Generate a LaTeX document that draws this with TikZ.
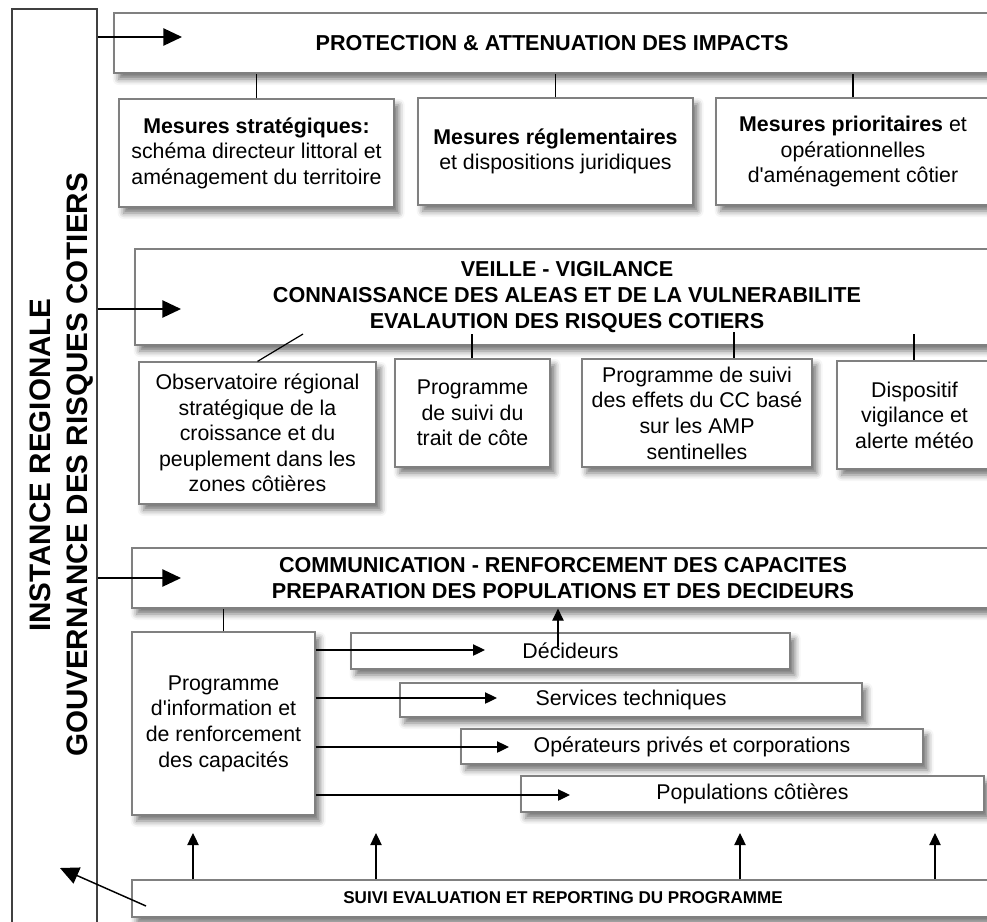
\documentclass[tikz,border=0pt]{standalone}
\usepackage{fontspec}
\setmainfont{Liberation Sans}[Ligatures=TeXOff]
\usetikzlibrary{arrows.meta,fit,shadows.blur}

\tikzset{
 box/.style={draw=black!50, line width=0.9pt, fill=white, inner sep=0pt, align=center,
   font=\fontsize{16}{19.2}\selectfont,
   blur shadow={shadow xshift=3.5pt, shadow yshift=-4.5pt, shadow blur radius=4.5pt, shadow opacity=55}},
 sz/.style 2 args={minimum width=0.75pt*#1, minimum height=0.75pt*#2},
 head/.style={font=\fontsize{16.2}{19.2}\selectfont\bfseries, align=center, inner sep=0pt},
 vert/.style={rotate=90, anchor=base, inner sep=0pt, font=\fontsize{22.2}{26}\selectfont\bfseries},
 big/.style={-{Triangle[length=14pt,width=13pt]}, line width=1.1pt},
 small/.style={-{Triangle[length=9pt,width=8.5pt]}, line width=0.9pt},
 link/.style={line width=0.9pt},
}

\begin{document}
\begin{tikzpicture}[x=0.75pt,y=-0.75pt]
\useasboundingbox (0,0) rectangle (987,921);
\clip (0,0) rectangle (987,921);

% left instance box
\node[draw=black!75, line width=0.9pt, inner sep=0pt, sz={85}{931}] (inst) at (54.5,474.5) {};
\node[vert] (instA) at (50,465) {INSTANCE REGIONALE};
\node[vert] (instB) at (87,465) {GOUVERNANCE DES RISQUES COTIERS};

% PROTECTION
\node[box, sz={886}{60}] (prot) at (557,43) {};
\node[head] (protT) at (552,43) {PROTECTION \& ATTENUATION DES IMPACTS};
\node[box, sz={275}{108}] (p1) at (256.5,153) {\textbf{Mesures stratégiques:}\\schéma directeur littoral et\\aménagement du territoire};
\node[box, sz={275}{107}] (p2) at (555.5,151.5) {\textbf{Mesures réglementaires}\\et dispositions juridiques};
\node[box, sz={274}{107}] (p3) at (853,151.5) {\textbf{Mesures prioritaires} et\\opérationnelles\\d'aménagement côtier};

% VEILLE
\node[box, sz={865}{96}] (veil) at (567.5,297) {};
\node[head] (veilT) at (567,297) {VEILLE - VIGILANCE\\CONNAISSANCE DES ALEAS ET DE LA VULNERABILITE\\EVALAUTION DES RISQUES COTIERS};
\node[box, sz={237}{142}] (o1) at (257.5,433) {Observatoire régional\\stratégique de la\\croissance et du\\peuplement dans les\\zones côtières};
\node[box, sz={155}{108}] (o2) at (472.5,413) {Programme\\de suivi du\\trait de côte};
\node[box, sz={230}{108}] (o3) at (697,413) {Programme de suivi\\des effets du CC basé\\sur les AMP\\sentinelles};
\node[box, sz={155}{108}] (o4) at (914.5,415) {Dispositif\\vigilance et\\alerte météo};

% COMMUNICATION
\node[box, sz={868}{60}] (comm) at (566,578) {};
\node[head] (commT) at (563,578) {COMMUNICATION - RENFORCEMENT DES CAPACITES\\PREPARATION DES POPULATIONS ET DES DECIDEURS};
\node[box, sz={183}{183}] (prog) at (223.5,723.5) {Programme\\d'information et\\de renforcement\\des capacités};
\node[box, sz={439}{36}] (dec) at (570.5,651) {Décideurs};
\node[box, sz={462}{34}] (serv) at (631,700) {Services techniques};
\node[box, sz={462}{35}] (oper) at (692,746.5) {Opérateurs privés et corporations};
\node[box, sz={463}{36}] (popu) at (752.5,794) {Populations côtières};

% SUIVI
\node[box, sz={868}{37}] (suiv) at (566,898.5) {};
\node[font=\fontsize{12.8}{15}\selectfont\bfseries, inner sep=0pt] (suivT) at (563,898) {SUIVI EVALUATION ET REPORTING DU PROGRAMME};

% connectors: instance -> sections
\coordinate (b1) at (182,37);
\coordinate (b2) at (181,309);
\coordinate (b3) at (181,578);
\draw[big] (inst.east |- b1) -- (b1);
\draw[big] (inst.east |- b2) -- (b2);
\draw[big] (inst.east |- b3) -- (b3);

% protection links
\draw[link] (p1.north) -- (p1.north |- prot.south);
\draw[link] (p2.north) -- (p2.north |- prot.south);
\draw[link] (p3.north) -- (p3.north |- prot.south);

% veille links
\coordinate (v1) at (303,334);
\coordinate (v2) at (472,334);
\coordinate (v3) at (734,332);
\coordinate (v4) at (914,334);
\draw[link] (v1) -- (o1.north);
\draw[link] (v2) -- (v2 |- o2.north);
\draw[link] (v3) -- (v3 |- o3.north);
\draw[link] (v4) -- (v4 |- o4.north);

% communication links
\draw[link] (prog.north) -- (prog.north |- comm.south);
\coordinate (a1) at (485,650);
\coordinate (a2) at (497,698);
\coordinate (a3) at (509,747);
\coordinate (a4) at (570,795);
\draw[small] (prog.east |- a1) -- (a1);
\draw[small] (prog.east |- a2) -- (a2);
\draw[small] (prog.east |- a3) -- (a3);
\draw[small] (prog.east |- a4) -- (a4);
\coordinate (d0) at (558,647);
\draw[small] (d0) -- (d0 |- comm.south);

% suivi arrows
\coordinate (u1) at (193,833);
\coordinate (u2) at (376,833);
\coordinate (u3) at (740,833);
\coordinate (u4) at (935,833);
\draw[small] (u1 |- suiv.north) -- (u1);
\draw[small] (u2 |- suiv.north) -- (u2);
\draw[small] (u3 |- suiv.north) -- (u3);
\draw[small] (u4 |- suiv.north) -- (u4);
\coordinate (g0) at (146,906);
\coordinate (g1) at (60,868);
\draw[big] (g0) -- (g1);
\end{tikzpicture}
\end{document}
